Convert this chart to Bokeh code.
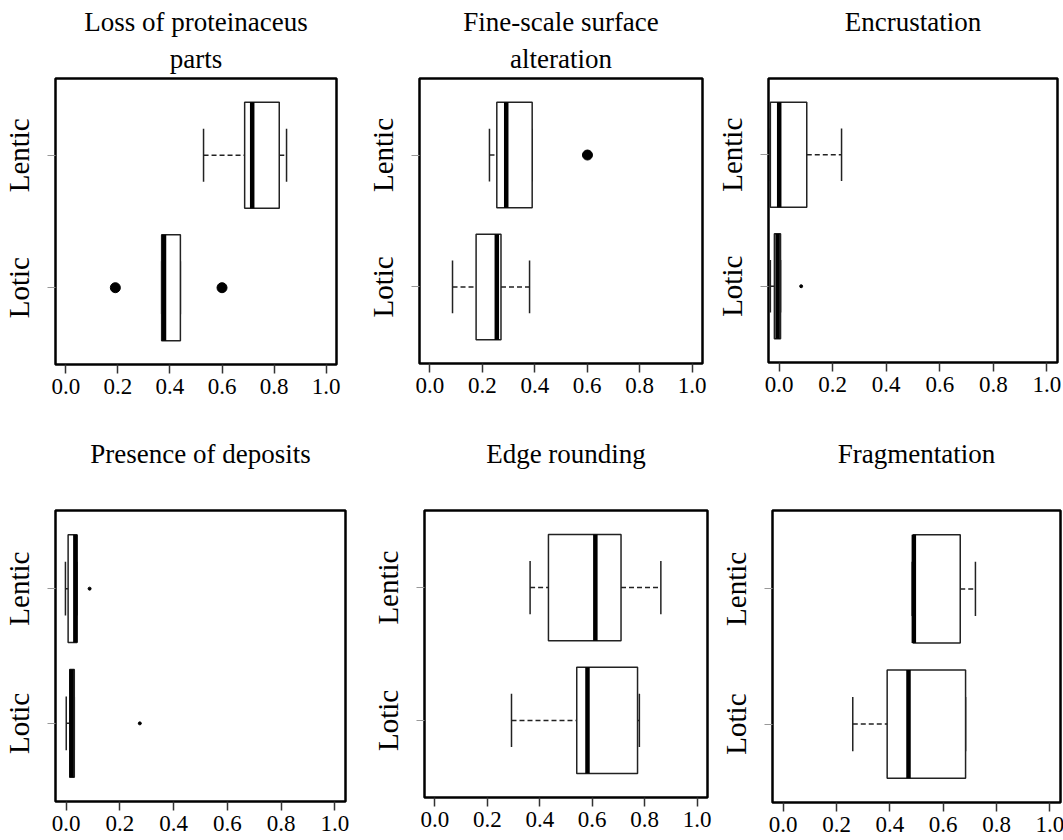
from bokeh.plotting import figure
from bokeh.layouts import row, column
from bokeh.models import Range1d, FixedTicker, Title, PrintfTickFormatter
from bokeh.embed import file_html
from bokeh.resources import INLINE

# ---------------- data ----------------
groups = ["Lotic", "Lentic"]
group_pos = [1, 2]
x_ticks = [0.0, 0.2, 0.4, 0.6, 0.8, 1.0]

# five-number summaries: [whisker low, Q1, median, Q3, whisker high]
loss_lotic = [0.368, 0.368, 0.377, 0.440, 0.440]
loss_lentic = [0.529, 0.687, 0.716, 0.820, 0.848]
loss_out_lotic = [0.19, 0.60]
loss_out_lentic = []

fine_lotic = [0.086, 0.176, 0.255, 0.271, 0.380]
fine_lentic = [0.227, 0.255, 0.291, 0.390, 0.390]
fine_out_lotic = []
fine_out_lentic = [0.601]

enc_lotic = [-0.033, -0.018, -0.006, 0.005, 0.005]
enc_lentic = [-0.033, -0.033, 0.000, 0.103, 0.233]
enc_out_lotic = [0.082]
enc_out_lentic = []

dep_lotic = [0.000, 0.013, 0.020, 0.030, 0.030]
dep_lentic = [-0.003, 0.007, 0.034, 0.040, 0.040]
dep_out_lotic = [0.274]
dep_out_lentic = [0.087]

edge_lotic = [0.292, 0.541, 0.582, 0.773, 0.780]
edge_lentic = [0.363, 0.433, 0.612, 0.710, 0.862]
edge_out_lotic = []
edge_out_lentic = []

frag_lotic = [0.261, 0.390, 0.470, 0.684, 0.684]
frag_lentic = [0.484, 0.487, 0.490, 0.664, 0.721]
frag_out_lotic = []
frag_out_lentic = []

titles = [
    ["Loss of proteinaceus", "parts"],
    ["Fine-scale surface", "alteration"],
    ["Encrustation"],
    ["Presence of deposits"],
    ["Edge rounding"],
    ["Fragmentation"],
]

FONT = "Liberation Serif"


def make_panel(title_lines, lotic, lentic, out_lotic, out_lentic, out_size,
               left, fw, right, top, fh, bottom):
    p = figure(output_backend="svg", toolbar_location=None,
               frame_width=fw, frame_height=fh,
               min_border_left=left, min_border_right=right,
               min_border_top=top, min_border_bottom=bottom,
               x_range=Range1d(-0.04, 1.04), y_range=Range1d(0.42, 2.58),
               tools="")
    p.background_fill_color = "white"
    p.border_fill_color = "white"
    p.outline_line_color = "black"
    p.outline_line_width = 2.5
    p.grid.visible = False

    # titles: outer line = figure title; inner line (or blank spacer) closer to frame
    p.title.text = title_lines[0]
    p.title.align = "center"
    p.title.text_font = FONT
    p.title.text_font_size = "27px"
    p.title.text_font_style = "normal"
    p.title.text_color = "black"
    p.title.standoff = 0
    inner_text = title_lines[1] if len(title_lines) == 2 else " "
    extra = Title(text=inner_text, align="center",
                  text_font=FONT, text_font_size="27px",
                  text_font_style="normal", text_color="black",
                  standoff=10)
    p.add_layout(extra, "above")

    stats = [lotic, lentic]
    lows = [s[0] for s in stats]
    q1s = [s[1] for s in stats]
    meds = [s[2] for s in stats]
    q3s = [s[3] for s in stats]
    highs = [s[4] for s in stats]
    ys = group_pos

    # whiskers
    p.segment(x0=lows, y0=ys, x1=q1s, y1=ys, line_color="#222222",
              line_width=1.5, line_dash="5 3")
    p.segment(x0=q3s, y0=ys, x1=highs, y1=ys, line_color="#222222",
              line_width=1.5, line_dash="5 3")
    # caps
    p.segment(x0=lows, y0=[y - 0.2 for y in ys], x1=lows, y1=[y + 0.2 for y in ys],
              line_color="#222222", line_width=1.5)
    p.segment(x0=highs, y0=[y - 0.2 for y in ys], x1=highs, y1=[y + 0.2 for y in ys],
              line_color="#222222", line_width=1.5)
    # boxes
    p.hbar(y=ys, left=q1s, right=q3s, height=0.8, fill_color="white",
           line_color="#222222", line_width=1.5)
    # medians
    p.segment(x0=meds, y0=[y - 0.4 for y in ys], x1=meds, y1=[y + 0.4 for y in ys],
              line_color="black", line_width=4.5)
    # outliers
    ox = list(out_lotic) + list(out_lentic)
    oy = [group_pos[0]] * len(out_lotic) + [group_pos[1]] * len(out_lentic)
    if ox:
        p.scatter(x=ox, y=oy, size=out_size, color="black")

    # x axis
    xa = p.xaxis[0]
    xa.ticker = FixedTicker(ticks=x_ticks)
    xa.formatter = PrintfTickFormatter(format="%.1f")
    xa.minor_tick_line_color = None
    xa.major_tick_out = 9
    xa.major_tick_in = 0
    xa.major_tick_line_color = "#333333"
    xa.major_tick_line_width = 1.5
    xa.axis_line_color = None
    xa.major_label_text_font = FONT
    xa.major_label_text_font_size = "23px"
    xa.major_label_text_color = "black"
    xa.major_label_standoff = 5

    # y axis
    ya = p.yaxis[0]
    ya.ticker = FixedTicker(ticks=group_pos)
    ya.major_label_overrides = {group_pos[0]: groups[0], group_pos[1]: groups[1]}
    ya.major_label_orientation = "vertical"
    ya.minor_tick_line_color = None
    ya.major_tick_out = 8
    ya.major_tick_in = 0
    ya.major_tick_line_color = "#999999"
    ya.axis_line_color = None
    ya.major_label_text_font = FONT
    ya.major_label_text_font_size = "29px"
    ya.major_label_text_color = "black"
    ya.major_label_standoff = 12
    return p


p1 = make_panel(titles[0], loss_lotic, loss_lentic, loss_out_lotic, loss_out_lentic, 10,
                52, 281, 27, 78, 286, 66)
p2 = make_panel(titles[1], fine_lotic, fine_lentic, fine_out_lotic, fine_out_lentic, 10,
                56, 283, 11, 76, 285, 69)
p3 = make_panel(titles[2], enc_lotic, enc_lentic, enc_out_lotic, enc_out_lentic, 3,
                53, 289, 11, 76, 284, 70)
p4 = make_panel(titles[3], dep_lotic, dep_lentic, dep_out_lotic, dep_out_lentic, 3,
                48, 290, 22, 77, 291, 42)
p5 = make_panel(titles[4], edge_lotic, edge_lentic, edge_out_lotic, edge_out_lentic, 3,
                57, 283, 10, 79, 287, 44)
p6 = make_panel(titles[5], frag_lotic, frag_lentic, frag_out_lotic, frag_out_lentic, 3,
                54, 288, 11, 80, 292, 38)

layout = column(row(p1, p2, p3, spacing=0), row(p4, p5, p6, spacing=0), spacing=0)

open("out.html", "w").write(file_html(layout, INLINE))
